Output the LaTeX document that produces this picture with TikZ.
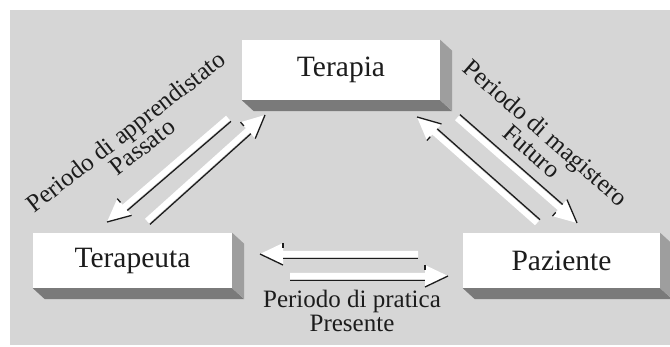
\documentclass[tikz,border=0pt]{standalone}
\usepackage{fontspec}
\setmainfont{Liberation Serif}
\usetikzlibrary{calc}
\definecolor{bg}{RGB}{214,214,214}
\definecolor{ink}{RGB}{28,28,28}
\definecolor{shadeB}{RGB}{122,122,122}
\definecolor{shadeR}{RGB}{158,158,158}
\tikzset{
  box/.style={fill=white, inner sep=0pt, font=\fontsize{29.5}{32}\selectfont, text=ink},
  lbl/.style={font=\fontsize{25}{28}\selectfont, text=ink, anchor=base, inner sep=0pt},
  edge/.style={draw=ink, line width=1.3pt},
  shadeb/.style={fill=shadeB},
  shader/.style={fill=shadeR},
}
\newcommand\duoarrow[4]{%
  \coordinate (h) at ($(#2)!23pt!(#1)$);
  \fill[white] ($(#1)!3pt!90:(#2)$) -- ($(h)!3pt!-90:(#1)$) -- ($(h)!11pt!-90:(#1)$) -- (#2)
     -- ($(h)!11pt!90:(#1)$) -- ($(h)!3pt!90:(#1)$) -- ($(#1)!3pt!-90:(#2)$) -- cycle;
  \draw[edge] ($(#1)!4.5pt!#3:(#2)$) -- ($(h)!4.5pt!#4:(#1)$);
  \draw[edge] (#2) -- ($(h)!11pt!#4:(#1)$);
  \draw[edge] ($(h)!11pt!#3:(#1)$) -- ($(h)!6pt!#3:(#1)$);
}
\newcommand\boxshade[1]{%
  \fill[shadeb] (#1.south west) -- (#1.south east) -- ($(#1.south east)+(12,11)$) -- ($(#1.south west)+(12,11)$) -- cycle;
  \fill[shader] (#1.north east) -- ($(#1.north east)+(12,11)$) -- ($(#1.south east)+(12,11)$) -- (#1.south east) -- cycle;
}
\begin{document}
\begin{tikzpicture}[x=1pt,y=-1pt]
\useasboundingbox (0,0) rectangle (670,347);
\fill[white] (0,0) rectangle (670,347);
\fill[bg] (10,10) rectangle (670,345);

% boxes
\node[box, minimum width=198pt, minimum height=60pt] (terapia) at (341,70) {Terapia};
\node[box, minimum width=199pt, minimum height=55pt] (terapeuta) at (132.5,260.5) {Terapeuta};
\node[box, minimum width=197pt, minimum height=55pt] (paziente) at (561.5,260.5) {Paziente};
\boxshade{terapia}
\boxshade{terapeuta}
\boxshade{paziente}

% arrow end points
\coordinate (hAt) at (418,254); \coordinate (hAp) at (260,254);
\coordinate (hBt) at (290,276); \coordinate (hBp) at (448,276);
\coordinate (lAt) at (228,118); \coordinate (lAp) at (107,222);
\coordinate (lBt) at (147,221); \coordinate (lBp) at (265,115);
\coordinate (rCt) at (537,223); \coordinate (rCp) at (417,117);
\coordinate (rDt) at (457,118); \coordinate (rDp) at (577,223);

\duoarrow{hAt}{hAp}{90}{-90}
\duoarrow{hBt}{hBp}{-90}{90}
\duoarrow{lAt}{lAp}{90}{-90}
\duoarrow{lBt}{lBp}{-90}{90}
\duoarrow{rCt}{rCp}{-90}{90}
\duoarrow{rDt}{rDp}{90}{-90}

% labels
\node[lbl, rotate=38] (lab1a) at (131,138.2) {Periodo di apprendistato};
\node[lbl, rotate=38] (lab1b) at (147.5,153.3) {Passato};
\node[lbl, rotate=-41] (lab2a) at (540.5,139) {Periodo di magistero};
\node[lbl, rotate=-41] (lab2b) at (526.5,157.5) {Futuro};
\node[lbl] (lab3a) at (352,308) {Periodo di pratica};
\node[lbl] (lab3b) at (352,332) {Presente};
\end{tikzpicture}
\end{document}
